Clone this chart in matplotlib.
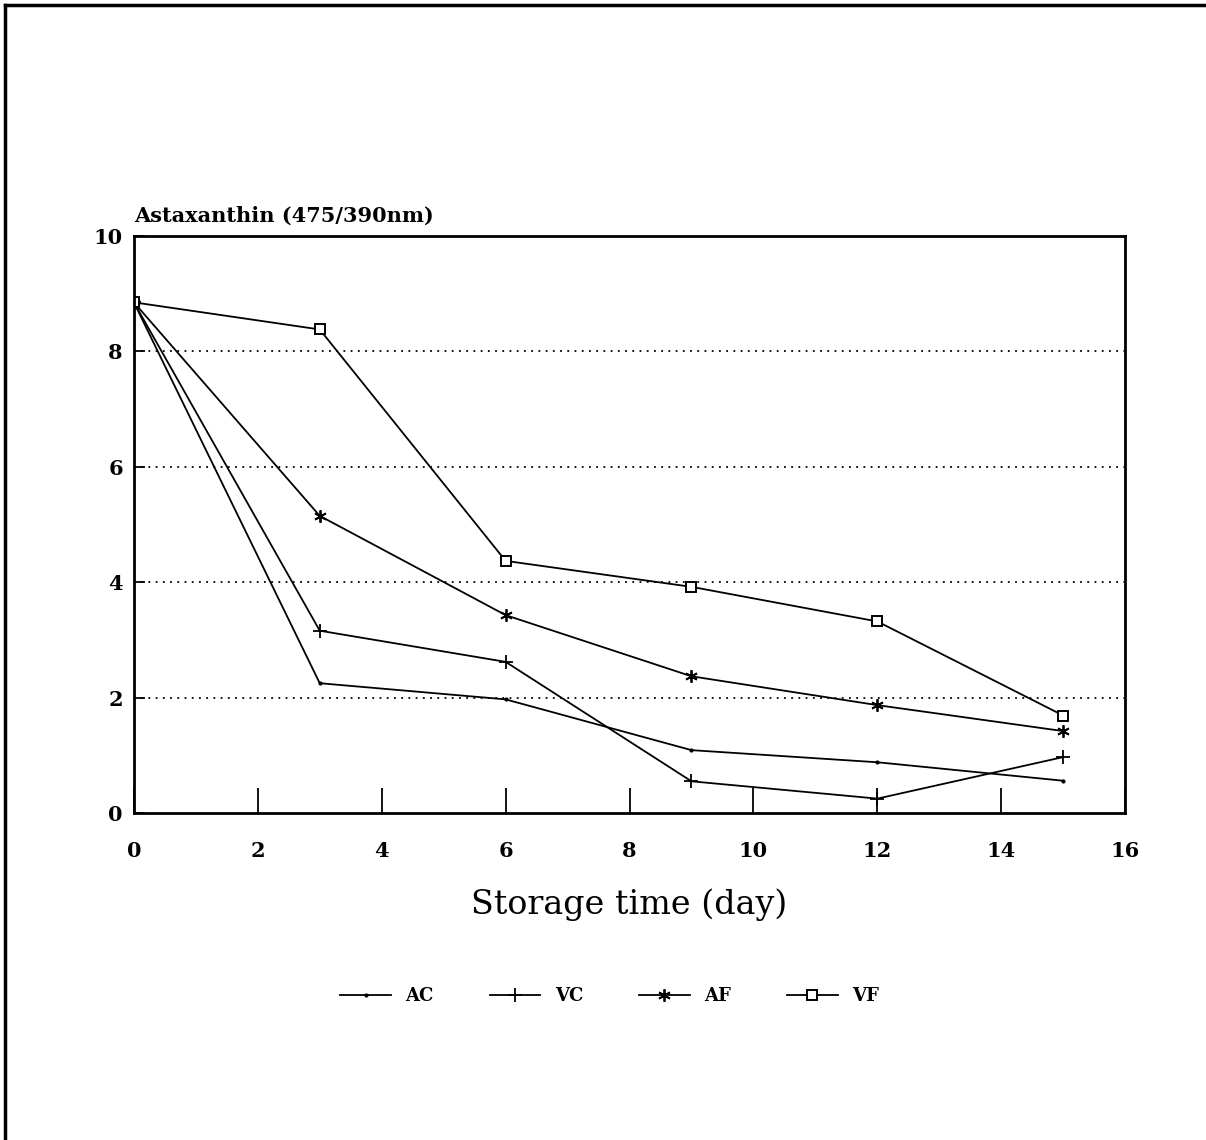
import numpy as np
import matplotlib
matplotlib.use("Agg")
import matplotlib.pyplot as plt
from matplotlib.lines import Line2D

# Storage time (day) and astaxanthin ratio per treatment
days = [0, 3, 6, 9, 12, 15]
AC = [8.85, 2.25, 1.97, 1.09, 0.88, 0.56]
VC = [8.85, 3.16, 2.62, 0.55, 0.25, 0.97]
AF = [8.85, 5.15, 3.43, 2.37, 1.87, 1.42]
VF = [8.85, 8.38, 4.37, 3.92, 3.32, 1.69]

series_names = ["AC", "VC", "AF", "VF"]
xticks = [0, 2, 4, 6, 8, 10, 12, 14, 16]
yticks = [0, 2, 4, 6, 8, 10]

plt.rcParams["font.family"] = ["DejaVu Serif"]

fig = plt.figure(figsize=(12.06, 11.40), dpi=100)
ax = fig.add_axes([0.111, 0.2868, 0.822, 0.5062])

# scanned page border (top and left)
fig.add_artist(Line2D([0.004, 1.0], [0.996, 0.996], color="black", lw=2.5, transform=fig.transFigure))
fig.add_artist(Line2D([0.004, 0.004], [0.0, 0.996], color="black", lw=2.5, transform=fig.transFigure))

ax.plot(days, AC, color="black", lw=1.3, marker=".", markersize=4, label=series_names[0])
ax.plot(days, VC, color="black", lw=1.3, marker="+", markersize=10, mew=1.3, label=series_names[1])
ax.plot(days, AF, color="black", lw=1.3, marker=(6, 2, 0), markersize=9, mew=1.3, label=series_names[2])
ax.plot(days, VF, color="black", lw=1.3, marker="s", markersize=7, mfc="white", mew=1.4, label=series_names[3])

for y in yticks[1:-1]:
    ax.axhline(y, color="black", lw=1.3, linestyle=(0, (1, 3)), zorder=0)

ax.set_xlim(0, 16)
ax.set_ylim(0, 10)
ax.set_xticks(xticks)
ax.set_yticks(yticks)
ax.tick_params(axis="x", direction="in", length=18, width=1.3, pad=20, labelsize=15)
ax.tick_params(axis="y", direction="in", length=8, width=1.3, pad=8, labelsize=15)
for lbl in ax.get_xticklabels() + ax.get_yticklabels():
    lbl.set_fontweight("bold")
for s in ax.spines.values():
    s.set_linewidth(2)

ax.text(0.0, 1.018, "Astaxanthin (475/390nm)", transform=ax.transAxes,
        fontsize=15, fontweight="bold", ha="left", va="bottom")
ax.set_xlabel("Storage time (day)", fontsize=24, labelpad=20)

leg = ax.legend(loc="center", bbox_to_anchor=(0.48, -0.317), ncol=4, frameon=False,
                fontsize=13, handlelength=2.8, columnspacing=3.1, handletextpad=0.8)
for t in leg.get_texts():
    t.set_fontweight("bold")

fig.savefig("out.png", dpi=100)
